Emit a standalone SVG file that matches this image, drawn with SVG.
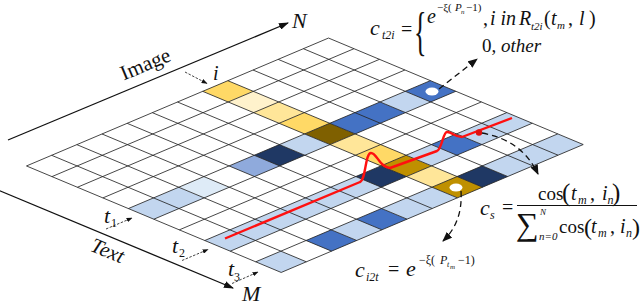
<svg xmlns="http://www.w3.org/2000/svg" width="640" height="306" viewBox="0 0 640 306" font-family="Liberation Serif, serif">
<style>
.it{font-family:"Liberation Serif",serif;font-style:italic;fill:#111}
.rm{font-family:"Liberation Serif",serif;fill:#111}
.nv{fill:#1F3864}.bl{fill:#4472C4}.pw{fill:#8FAADC}.lb{fill:#C2D6EF}.vl{fill:#DEEBF7}
.y1{fill:#FFD966}.y2{fill:#FFE699}.y3{fill:#FFF2CC}.ol{fill:#7F6000}.gd{fill:#BF9000}
.grid{fill:none;stroke:#262626;stroke-width:0.85}
.dash{fill:none;stroke:#111;stroke-width:1.3;stroke-dasharray:6 4}
.thin{fill:none;stroke:#111;stroke-width:0.8;stroke-dasharray:2.5 1.5}
.axis{fill:none;stroke:#111;stroke-width:1.3}
</style>
<defs>
<marker id="ahAxis" viewBox="0 0 10 10" refX="9" refY="5" markerWidth="10" markerHeight="7" markerUnits="userSpaceOnUse" orient="auto" preserveAspectRatio="none"><path d="M0,0 L10,5 L0,10 z" fill="#111"/></marker>
<marker id="ahSmall" viewBox="0 0 10 10" refX="9" refY="5" markerWidth="6" markerHeight="4.5" markerUnits="userSpaceOnUse" orient="auto" preserveAspectRatio="none"><path d="M0,0 L10,5 L0,10 z" fill="#111"/></marker>
<marker id="ahDash" viewBox="0 0 10 10" refX="9" refY="5" markerWidth="10" markerHeight="8" markerUnits="userSpaceOnUse" orient="auto" preserveAspectRatio="none"><path d="M0,0 L10,5 L0,10 z" fill="#111"/></marker>
</defs>

<g id="axes">
<path class="axis" d="M8,140 L288,23" marker-end="url(#ahAxis)"/>
<path class="axis" d="M-2,190 L233,288" marker-end="url(#ahAxis)"/>
<text class="rm" font-size="21" text-anchor="middle" transform="translate(148,70.5) rotate(-22.7)">Image</text>
<text class="it" font-size="21" text-anchor="middle" transform="translate(105,257) rotate(22.4)">Text</text>
<text class="it" x="292" y="28" font-size="22">N</text>
<text class="it" x="242" y="301" font-size="22">M</text>
</g>

<g id="grid" transform="matrix(25.17 -10.66 25.47 10.65 26.48 165.96)">
<g id="cells">
<rect x="7" y="0" width="1" height="1" class="y1"/>
<rect x="7" y="1" width="1" height="1" class="y3"/>
<rect x="7" y="2" width="1" height="1" class="y2"/>
<rect x="7" y="3" width="1" height="1" class="y1"/>
<rect x="7" y="4" width="1" height="1" class="ol"/>
<rect x="7" y="5" width="1" height="1" class="y2"/>
<rect x="7" y="6" width="1" height="1" class="y1"/>
<rect x="7" y="7" width="1" height="1" class="gd"/>
<rect x="7" y="8" width="1" height="1" class="y2"/>
<rect x="7" y="9" width="1" height="1" class="gd"/>
<rect x="0" y="4" width="2" height="1" class="lb"/>
<rect x="2" y="4" width="1" height="1" class="vl"/>
<rect x="4" y="4" width="1" height="1" class="pw"/>
<rect x="5" y="4" width="1" height="1" class="nv"/>
<rect x="6" y="4" width="1" height="1" class="lb"/>
<rect x="8" y="4" width="2" height="1" class="bl"/>
<rect x="10" y="4" width="1" height="1" class="lb"/>
<rect x="11" y="4" width="1" height="1" class="bl"/>
<rect x="0" y="7" width="6" height="1" class="lb"/>
<rect x="6" y="7" width="1" height="1" class="nv"/>
<rect x="8" y="7" width="1" height="1" class="lb"/>
<rect x="9" y="7" width="1" height="1" class="bl"/>
<rect x="10" y="7" width="2" height="1" class="lb"/>
<rect x="0" y="9" width="1" height="1" class="lb"/>
<rect x="2" y="9" width="1" height="1" class="bl"/>
<rect x="3" y="9" width="1" height="1" class="lb"/>
<rect x="4" y="9" width="1" height="1" class="bl"/>
<rect x="5" y="9" width="2" height="1" class="lb"/>
<rect x="8" y="9" width="1" height="1" class="nv"/>
<rect x="9" y="9" width="3" height="1" class="lb"/>
</g>
<path class="grid" vector-effect="non-scaling-stroke" d="M0,0V10M1,0V10M2,0V10M3,0V10M4,0V10M5,0V10M6,0V10M7,0V10M8,0V10M9,0V10M10,0V10M11,0V10M12,0V10M0,0H12M0,1H12M0,2H12M0,3H12M0,4H12M0,5H12M0,6H12M0,7H12M0,8H12M0,9H12M0,10H12"/>
</g>

<g id="markers-on-grid">
<ellipse cx="432" cy="91.5" rx="6.5" ry="4" fill="#fff"/>
<ellipse cx="456" cy="187.5" rx="6.5" ry="4" fill="#fff"/>
<path d="M225,238.5 L360,182 C366,180 365,153 371,153 C377,153 379,167 390,168 L437,151 C442,149 443,132 447,132 C452,132 455,137 462,137 L512,118" fill="none" stroke="#FF1010" stroke-width="2.4" stroke-linejoin="round"/>
<circle cx="479" cy="132.5" r="3.2" fill="#E01010"/>
</g>

<g id="labels">
<text class="it" x="213" y="80" font-size="20">i</text>
<text class="it" x="104" y="223" font-size="22">t</text><text class="rm" x="111" y="227" font-size="12">1</text>
<text class="it" x="172" y="253" font-size="22">t</text><text class="rm" x="179" y="257" font-size="12">2</text>
<text class="it" x="228" y="276" font-size="22">t</text><text class="rm" x="234" y="281" font-size="12">3</text>
</g>

<g id="formula-t2i">
<text class="it" x="370" y="35" font-size="22">c</text>
<text class="it" x="382" y="39" font-size="12">t2i</text>
<text class="rm" x="401" y="36" font-size="20">=</text>
<text class="rm" font-size="52" transform="translate(414,49) scale(0.5,1)">{</text>
<text class="it" x="427" y="23" font-size="20">e</text>
<text class="rm" x="437" y="11" font-size="11">−ξ(</text>
<text class="it" x="455" y="11" font-size="11">P</text>
<text class="it" x="461" y="14" font-size="7">n</text>
<text class="rm" x="466" y="11" font-size="11">−1)</text>
<text class="rm" x="483" y="25" font-size="20">,</text>
<text class="it" x="490" y="25" font-size="20">i in</text>
<text class="it" x="519" y="25" font-size="20">R</text>
<text class="it" x="531" y="30" font-size="11">t2i</text>
<text class="rm" x="544" y="25" font-size="20">(</text>
<text class="it" x="551" y="25" font-size="20">t</text>
<text class="it" x="557" y="29" font-size="11">m</text>
<text class="rm" x="568" y="25" font-size="20">,</text>
<text class="it" x="579" y="25" font-size="20">l</text>
<text class="rm" x="589" y="25" font-size="20">)</text>
<text class="rm" x="482" y="52" font-size="19">0,</text>
<text class="it" x="501" y="52" font-size="19">other</text>
</g>

<g id="formula-s">
<text class="it" x="480" y="215" font-size="22">c</text>
<text class="it" x="490" y="219" font-size="12">s</text>
<text class="rm" x="502" y="214" font-size="20">=</text>
<path d="M517,205.5 H637" stroke="#111" stroke-width="1.1"/>
<text class="rm" x="538" y="200" font-size="19">cos</text>
<text class="rm" x="562" y="201" font-size="25">(</text>
<text class="it" x="571" y="200" font-size="20">t</text>
<text class="it" x="578" y="204" font-size="12">m</text>
<text class="rm" x="590" y="200" font-size="20">,</text>
<text class="it" x="602" y="200" font-size="20">i</text>
<text class="it" x="607.5" y="204" font-size="12">n</text>
<text class="rm" x="612" y="201" font-size="25">)</text>
<text class="rm" x="516" y="235" font-size="32">∑</text>
<text class="it" x="540" y="215" font-size="9">N</text>
<text class="it" x="539" y="240" font-size="11">n=0</text>
<text class="rm" x="559" y="233" font-size="19">cos</text>
<text class="rm" x="584" y="235" font-size="24">(</text>
<text class="it" x="591" y="233" font-size="20">t</text>
<text class="it" x="598" y="237" font-size="12">m</text>
<text class="rm" x="610" y="233" font-size="20">,</text>
<text class="it" x="620" y="233" font-size="20">i</text>
<text class="it" x="626" y="237" font-size="12">n</text>
<text class="rm" x="632" y="235" font-size="24">)</text>
</g>

<g id="formula-i2t">
<text class="it" x="355" y="277" font-size="22">c</text>
<text class="it" x="366" y="281" font-size="12">i2t</text>
<text class="rm" x="388" y="276" font-size="20">=</text>
<text class="it" x="406" y="276" font-size="22">e</text>
<text class="rm" x="419" y="264" font-size="12">−ξ(</text>
<text class="it" x="440" y="264" font-size="12">P</text>
<text class="it" x="447" y="267" font-size="8">t</text>
<text class="it" x="450" y="269" font-size="7">m</text>
<text class="rm" x="458" y="264" font-size="12">−1)</text>
</g>

<g id="connectors">
<path class="thin" d="M185,72 L207,83.5" marker-end="url(#ahSmall)"/>
<path class="thin" d="M106,229 L132,218" marker-end="url(#ahSmall)"/>
<path class="thin" d="M182,260.5 L208,249.5" marker-end="url(#ahSmall)"/>
<path class="thin" d="M232,283.5 L258,272" marker-end="url(#ahSmall)"/>
<path class="dash" d="M439,89 L477,59" marker-end="url(#ahDash)"/>
<path class="dash" d="M482,133 Q522,140 538,174" marker-end="url(#ahDash)"/>
<path class="dash" d="M461,191 Q463,222 443,241" marker-end="url(#ahDash)"/>
</g>
</svg>
